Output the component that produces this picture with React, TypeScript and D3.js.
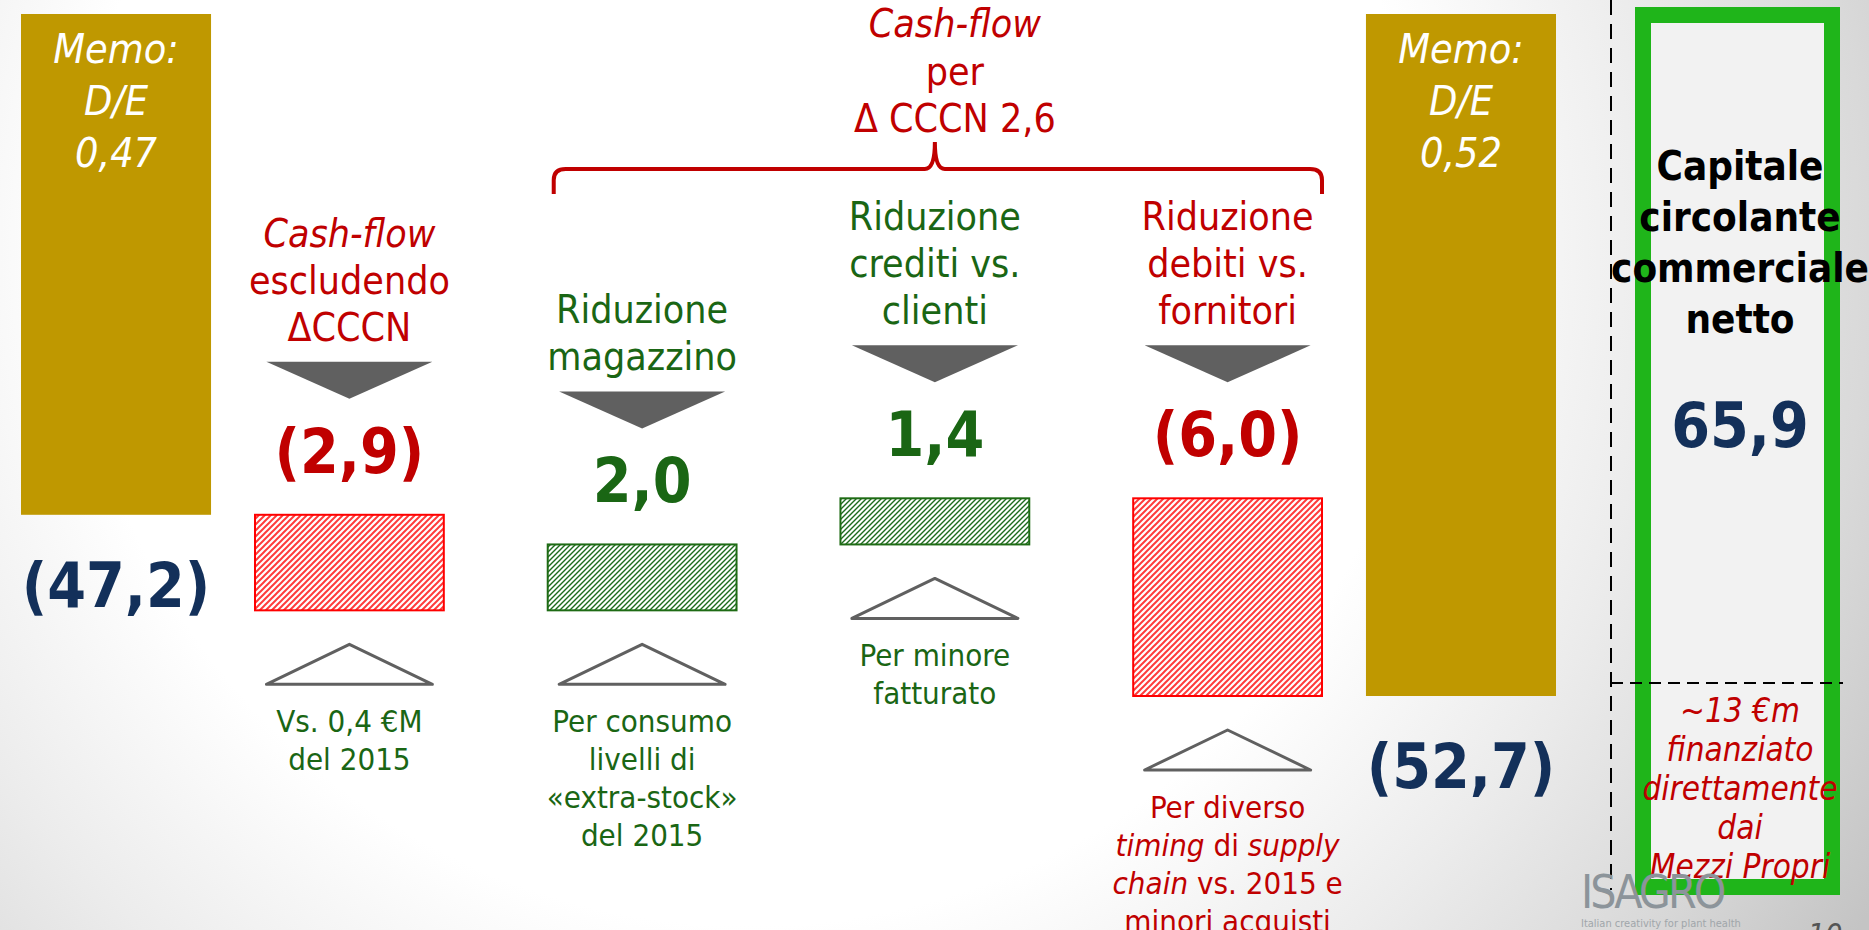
import React, { useRef, useEffect } from 'react';
import * as d3 from 'd3';

// net debt at the start and at the end of the year
const totalKeys = ['2015', '2016'];
const totalValues = [47.2, 52.7];
const totalLabels = ['(47,2)', '(52,7)'];
const memoRatios = ['0,47', '0,52'];

// steps of the bridge (positive = more debt)
const stepKeys = ['cashflow', 'magazzino', 'crediti', 'fornitori'];
const stepValues = [2.9, -2.0, -1.4, 6.0];
const stepLabels = ['(2,9)', '2,0', '1,4', '(6,0)'];
const stepTitles = [
  ['*Cash-flow*', 'escludendo', 'ΔCCCN'],
  ['Riduzione', 'magazzino'],
  ['Riduzione', 'crediti vs.', 'clienti'],
  ['Riduzione', 'debiti vs.', 'fornitori']
];
const stepNotes = [
  ['Vs. 0,4 €M', 'del 2015'],
  ['Per consumo', 'livelli di', '«extra-stock»', 'del 2015'],
  ['Per minore', 'fatturato'],
  ['Per diverso', '*timing* di *supply*', '*chain* vs. 2015 e', 'minori acquisti']
];
// whether the comment reads as good or bad news
const stepNoteTone = ['good', 'good', 'good', 'bad'];

const cccnTitle = ['*Cash-flow*', 'per', 'Δ CCCN 2,6'];
const boxTitle = ['Capitale', 'circolante', 'commerciale', 'netto'];
const boxValue = '65,9';
const boxNote = ['~13 €m', 'finanziato', 'direttamente', 'dai', 'Mezzi Propri'];

const FONT = "'DejaVu Sans Condensed', 'DejaVu Sans', sans-serif";
const RED = '#c00000';
const GREEN = '#1a6614';
const NAVY = '#13305a';
const GOLD = '#bf9800';
const GREY = '#606060';

const App = () => {
  const chartRef = useRef(null);

  useEffect(() => {
    const width = 1869;
    const height = 930;

    const svg = d3.select(chartRef.current)
      .attr('width', width)
      .attr('height', height)
      .attr('viewBox', [0, 0, width, height])
      .style('position', 'absolute')
      .style('left', 0)
      .style('top', 0)
      .style('font-family', FONT);

    svg.selectAll('*').remove();

    const defs = svg.append('defs');

    const bg = defs.append('radialGradient')
      .attr('id', 'bg')
      .attr('gradientUnits', 'userSpaceOnUse')
      .attr('cx', 750)
      .attr('cy', 250)
      .attr('r', 1300);
    [[0, '#ffffff'], [0.52, '#ffffff'], [0.7, '#ececec'], [0.86, '#d9d9d9'], [1, '#c4c4c4']]
      .forEach(([o, c]) => bg.append('stop').attr('offset', o).attr('stop-color', c));

    const hatch = (id, color, size, sw) => {
      const p = defs.append('pattern')
        .attr('id', id)
        .attr('patternUnits', 'userSpaceOnUse')
        .attr('width', size)
        .attr('height', size);
      p.append('rect').attr('width', size).attr('height', size).attr('fill', '#fff');
      p.append('path')
        .attr('d', `M0,${size} L${size},0 M${-size / 2},${size / 2} L${size / 2},${-size / 2} M${size / 2},${size * 1.5} L${size * 1.5},${size / 2}`)
        .attr('stroke', color)
        .attr('stroke-width', sw);
    };
    hatch('hatch-red', '#ff3b3b', 6, 2);
    hatch('hatch-green', '#1d6a1d', 5, 1.4);

    svg.append('rect').attr('width', width).attr('height', height).attr('fill', 'url(#bg)');

    // text lines, "*...*" marks italic parts
    const addLines = (lines, x, y0, lh, size, color, weight = 'normal', italic = false) => {
      lines.forEach((line, i) => {
        const t = svg.append('text')
          .attr('x', x)
          .attr('y', y0 + i * lh)
          .attr('text-anchor', 'middle')
          .attr('font-size', size)
          .attr('font-weight', weight)
          .attr('font-style', italic ? 'italic' : 'normal')
          .attr('fill', color)
          .style('white-space', 'pre');
        line.split('*').forEach((seg, j) => {
          if (!seg) return;
          t.append('tspan').attr('font-style', j % 2 || italic ? 'italic' : 'normal').text(seg);
        });
      });
    };

    // running level of the waterfall
    const levels = [totalValues[0]];
    stepValues.forEach(v => levels.push(levels[levels.length - 1] + v));

    const floor = 32;
    const y = d3.scaleLinear()
      .domain([floor, d3.max(levels)])
      .range([14, 696]);

    const xTotal = d3.scaleBand().domain(totalKeys).range([21, 1556]).paddingInner(0.8587);
    const xStep = d3.scaleBand().domain(stepKeys).range([255, 1322]).paddingInner(0.355);

    // gold bars
    totalKeys.forEach((k, i) => {
      const x0 = xTotal(k);
      const cx = x0 + xTotal.bandwidth() / 2;
      const top = y(floor);
      const bottom = y(totalValues[i]);
      svg.append('rect')
        .attr('x', x0)
        .attr('y', top)
        .attr('width', xTotal.bandwidth())
        .attr('height', bottom - top)
        .attr('fill', GOLD);
      addLines(['Memo:', 'D/E', memoRatios[i]], cx, top + 49, 52, 41, '#ffffff', 'normal', true);
      addLines([totalLabels[i]], cx, bottom + 92, 0, 62, NAVY, 'bold');
    });

    // bridge steps
    stepKeys.forEach((k, i) => {
      const x0 = xStep(k);
      const bw = xStep.bandwidth();
      const cx = x0 + bw / 2;
      const up = stepValues[i] > 0;
      const color = up ? RED : GREEN;
      const top = y(Math.min(levels[i], levels[i + 1]));
      const bottom = y(Math.max(levels[i], levels[i + 1]));

      const titles = stepTitles[i];
      addLines(titles, cx, top - 174 - (titles.length - 1) * 47, 47, 39, color);

      svg.append('path')
        .attr('d', `M${cx - 83},${top - 153} L${cx + 83},${top - 153} L${cx},${top - 116} Z`)
        .attr('fill', GREY);

      addLines([stepLabels[i]], cx, top - 42, 0, 62, color, 'bold');

      svg.append('rect')
        .attr('x', x0)
        .attr('y', top)
        .attr('width', bw)
        .attr('height', bottom - top)
        .attr('fill', up ? 'url(#hatch-red)' : 'url(#hatch-green)')
        .attr('stroke', up ? '#ff0000' : '#1e6b14')
        .attr('stroke-width', 2);

      svg.append('path')
        .attr('d', `M${cx},${bottom + 34} L${cx + 83},${bottom + 74} L${cx - 83},${bottom + 74} Z`)
        .attr('fill', 'none')
        .attr('stroke', GREY)
        .attr('stroke-width', 3)
        .attr('stroke-linejoin', 'round');

      addLines(stepNotes[i], cx, bottom + 122, 38, 31, stepNoteTone[i] === 'bad' ? RED : GREEN);
    });

    // brace over the three CCCN steps
    const bl = xStep(stepKeys[1]) + 6;
    const br = xStep(stepKeys[3]) + xStep.bandwidth();
    const tip = xStep(stepKeys[2]) + xStep.bandwidth() / 2;
    svg.append('path')
      .attr('d', `M${bl},194 V180 Q${bl},169 ${bl + 12},169 H${tip - 10} Q${tip},169 ${tip},142 Q${tip},169 ${tip + 10},169 H${br - 12} Q${br},169 ${br},180 V194`)
      .attr('fill', 'none')
      .attr('stroke', RED)
      .attr('stroke-width', 4);
    addLines(cccnTitle, tip + 20, 37, 47.5, 39, RED);

    // net working capital box
    svg.append('line')
      .attr('x1', 1611).attr('x2', 1611)
      .attr('y1', 0).attr('y2', 890)
      .attr('stroke', '#000')
      .attr('stroke-width', 2)
      .attr('stroke-dasharray', '15,9');

    svg.append('rect')
      .attr('x', 1643)
      .attr('y', 15)
      .attr('width', 189)
      .attr('height', 872)
      .attr('fill', '#f2f2f2')
      .attr('stroke', '#1fb51a')
      .attr('stroke-width', 16);

    svg.append('line')
      .attr('x1', 1611).attr('x2', 1843)
      .attr('y1', 683).attr('y2', 683)
      .attr('stroke', '#000')
      .attr('stroke-width', 2)
      .attr('stroke-dasharray', '12,7');

    addLines(boxTitle, 1740, 180, 51, 40, '#000', 'bold');
    addLines([boxValue], 1740, 447, 0, 62, NAVY, 'bold');
    addLines(boxNote, 1740, 722, 39, 33, RED, 'normal', true);

    // logo and page number
    svg.append('text')
      .attr('x', 1581)
      .attr('y', 908)
      .attr('font-size', 46)
      .attr('letter-spacing', -3)
      .attr('fill', '#8c949a')
      .text('ISAGRO');
    svg.append('text')
      .attr('x', 1581)
      .attr('y', 927)
      .attr('font-size', 11)
      .attr('fill', '#a0a6aa')
      .text('Italian creativity for plant health');
    svg.append('text')
      .attr('x', 1808)
      .attr('y', 945)
      .attr('font-size', 30)
      .attr('font-style', 'italic')
      .attr('fill', '#555')
      .text('10');
  }, []);

  return <svg ref={chartRef}></svg>;
};

export default App;
